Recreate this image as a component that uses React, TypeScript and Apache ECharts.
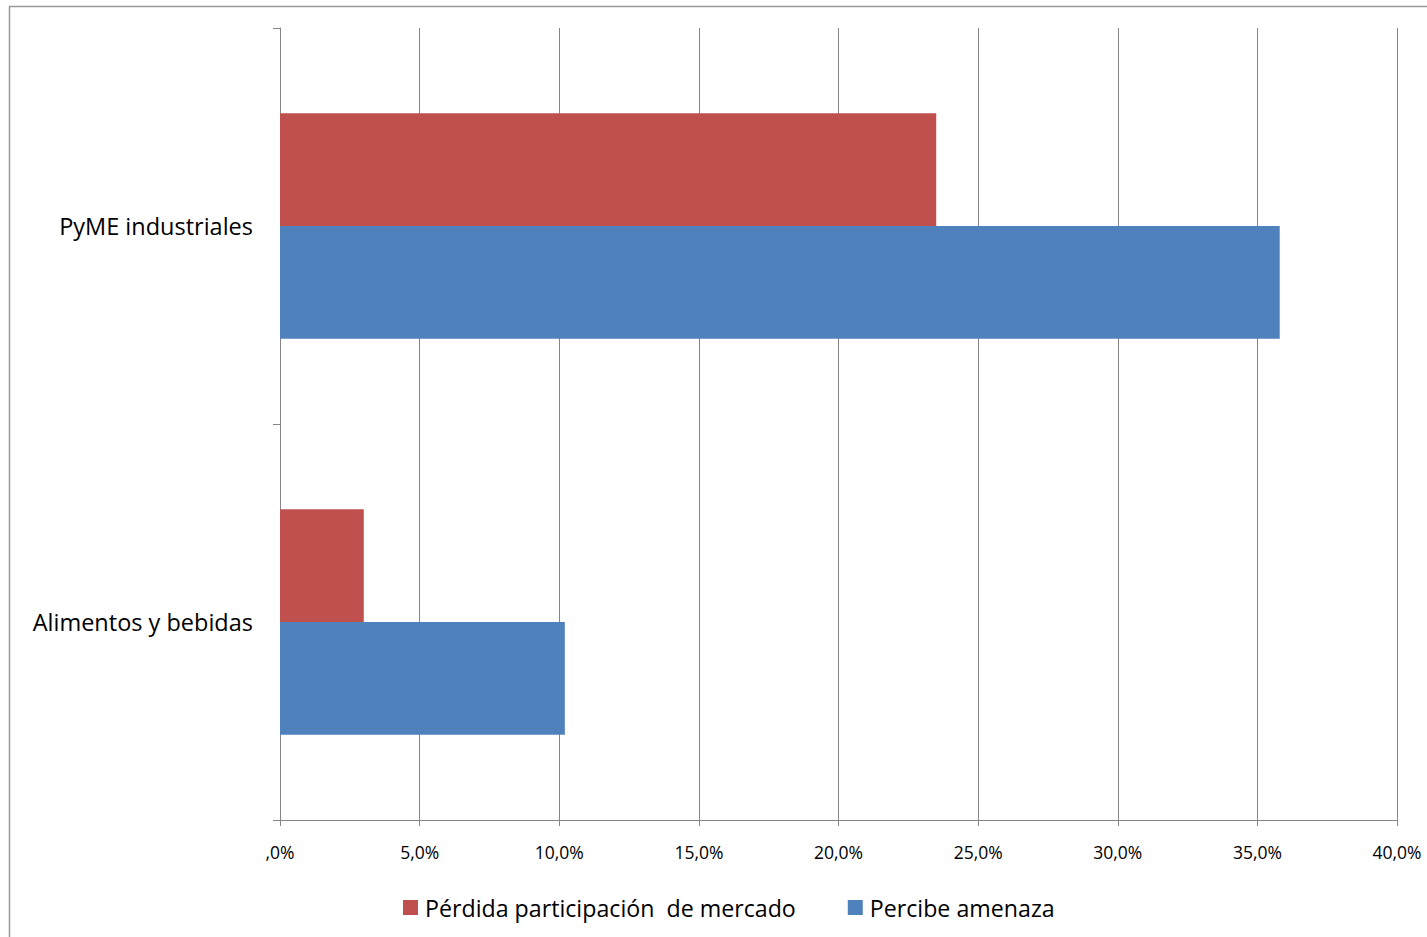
import React, { useEffect, useRef } from "react";
import * as echarts from "echarts";

const categories = ["Alimentos y bebidas", "PyME industriales"];
const perdida = [3.0, 23.5];
const amenaza = [10.2, 35.8];
const seriesNames = ["Pérdida participación  de mercado", "Percibe amenaza"];
const colors = ["#C0504D", "#4F81BD"];

const FONT = "Open Sans";

export default function App() {
  const ref = useRef<HTMLDivElement>(null);
  useEffect(() => {
    const chart = echarts.init(ref.current!, null, { renderer: "svg" });
    chart.setOption({
      animation: false,
      backgroundColor: "#ffffff",
      textStyle: { fontFamily: FONT },
      graphic: [
        {
          type: "rect",
          shape: { x: 9.5, y: 6.5, width: 1440, height: 960 },
          style: { fill: "none", stroke: "#9a9a9a", lineWidth: 1.5 },
          silent: true,
        },
      ],
      grid: { left: 280, right: 30, top: 28, bottom: 117, containLabel: false },
      legend: {
        data: seriesNames,
        bottom: 18,
        left: 403,
        padding: 0,
        itemWidth: 15,
        itemHeight: 15,
        itemGap: 52,
        icon: "rect",
        textStyle: { fontFamily: FONT, fontSize: 23.2, color: "#000", padding: [0, 0, 0, 2] },
      },
      xAxis: {
        type: "value",
        min: 0,
        max: 40,
        interval: 5,
        axisLine: { show: true, lineStyle: { color: "#868686" } },
        axisTick: { show: true, length: 6, lineStyle: { color: "#868686" } },
        splitLine: { show: true, lineStyle: { color: "#868686" } },
        axisLabel: {
          margin: 23,
          fontSize: 17.5,
          color: "#000",
          fontFamily: FONT,
          formatter: (v: number) => (v === 0 ? ",0%" : v.toFixed(1).replace(".", ",") + "%"),
        },
      },
      yAxis: {
        type: "category",
        data: categories,
        axisLine: { show: true, lineStyle: { color: "#868686" } },
        axisTick: { show: true, length: 7, lineStyle: { color: "#868686" } },
        axisLabel: { margin: 27, fontSize: 23.5, color: "#000", fontFamily: FONT },
      },
      series: [
        {
          name: seriesNames[0],
          type: "bar",
          data: perdida,
          itemStyle: { color: colors[0] },
          barGap: "0%",
          barCategoryGap: "43%",
        },
        {
          name: seriesNames[1],
          type: "bar",
          data: amenaza,
          itemStyle: { color: colors[1] },
          barGap: "0%",
          barCategoryGap: "43%",
        },
      ],
    });
    return () => chart.dispose();
  }, []);
  return (
    <div
      ref={ref}
      style={{ position: "absolute", left: 0, top: 0, width: 1427, height: 937 }}
    />
  );
}
